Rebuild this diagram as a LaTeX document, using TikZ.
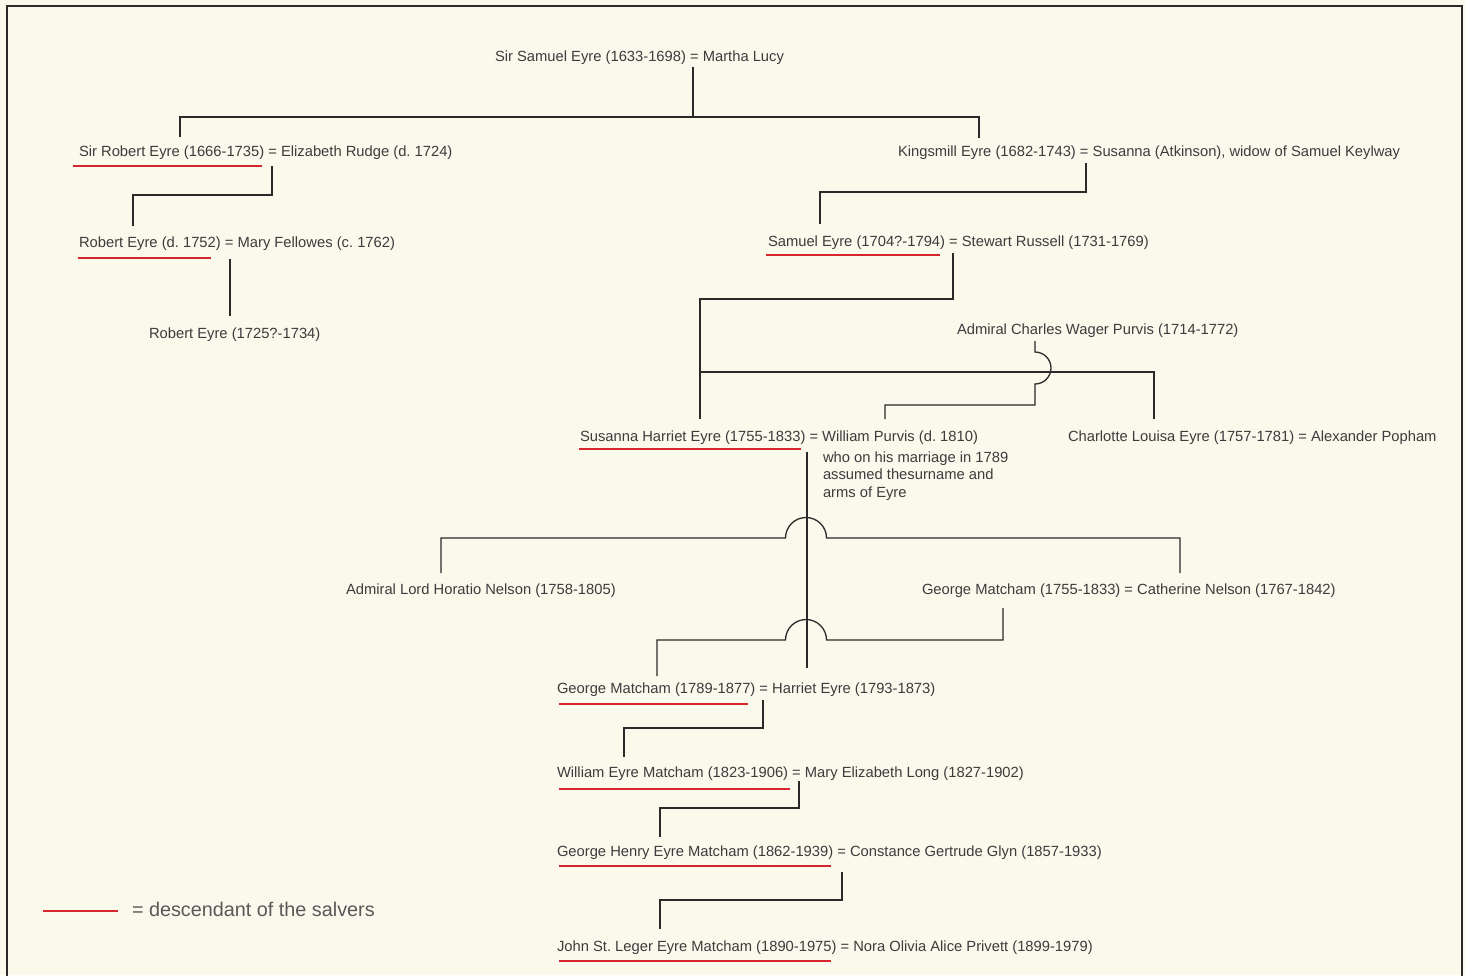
\documentclass[tikz,border=0pt]{standalone}
\usepackage{fontspec}
\setmainfont{Liberation Sans}
\frenchspacing
\definecolor{bg}{HTML}{FBF8EC}
\definecolor{txt}{HTML}{3C3C3C}
\definecolor{ln}{HTML}{2A2A2A}
\definecolor{rd}{HTML}{D7262E}
\begin{document}
\begin{tikzpicture}[x=1pt,y=-1pt,
  person/.style={anchor=base west,inner sep=0pt,outer sep=0pt,text=txt,font=\fontsize{14.75}{18}\selectfont},
  conn/.style={draw=ln,line width=1.3pt},
  thick conn/.style={draw=ln,line width=2.3pt},
  under/.style={draw=rd,line width=2.8pt}]
\useasboundingbox (0,0) rectangle (1465,975);
\fill[bg] (0,0) rectangle (1465,975);
\draw[ln,line width=1.3pt] (7,976) -- (7,6) -- (1462,6) -- (1462,976);

% people
\node[person] (ss) at (495,61) {Sir Samuel Eyre (1633-1698) = Martha Lucy};
\node[person] (sr) at (79,156) {Sir Robert Eyre (1666-1735) = Elizabeth Rudge (d. 1724)};
\node[person] (ke) at (898,156) {Kingsmill Eyre (1682-1743) = Susanna (Atkinson), widow of Samuel Keylway};
\node[person] (re) at (79,247) {Robert Eyre (d. 1752) = Mary Fellowes (c. 1762)};
\node[person] (se) at (768,246) {Samuel Eyre (1704?-1794) = Stewart Russell (1731-1769)};
\node[person] (rj) at (149,338) {Robert Eyre (1725?-1734)};
\node[person] (ap) at (957,334) {Admiral Charles Wager Purvis (1714-1772)};
\node[person] (sh) at (580,441) {Susanna Harriet Eyre (1755-1833) = William Purvis (d. 1810)};
\node[person] (n1) at (823,462) {who on his marriage in 1789};
\node[person] (n2) at (823,479) {assumed thesurname and};
\node[person] (n3) at (823,497) {arms of Eyre};
\node[person] (cl) at (1068,441) {Charlotte Louisa Eyre (1757-1781) = Alexander Popham};
\node[person] (hn) at (346,594) {Admiral Lord Horatio Nelson (1758-1805)};
\node[person] (gm) at (922,594) {George Matcham (1755-1833) = Catherine Nelson (1767-1842)};
\node[person] (gm2) at (557,693) {George Matcham (1789-1877) = Harriet Eyre (1793-1873)};
\node[person] (wm) at (557,777) {William Eyre Matcham (1823-1906) = Mary Elizabeth Long (1827-1902)};
\node[person] (gh) at (557,856) {George Henry Eyre Matcham (1862-1939) = Constance Gertrude Glyn (1857-1933)};
\node[person] (js) at (557,951) {John St. Leger Eyre Matcham (1890-1975) = Nora Olivia Alice Privett (1899-1979)};
\node[person,font=\fontsize{19.8}{22}\selectfont,text=txt!85] (lg) at (132,916) {= descendant of the salvers};

% connector end points
\coordinate (ss-d) at (693,67);
\coordinate (sr-u) at (180,137);
\coordinate (ke-u) at (979,138);
\coordinate (sr-d) at (272,166);
\coordinate (re-u) at (133,226);
\coordinate (re-d) at (230,259);
\coordinate (rj-u) at (230,316);
\coordinate (ke-d) at (1086,163);
\coordinate (se-u) at (820,224);
\coordinate (se-d) at (953,253);
\coordinate (sh-u) at (700,419);
\coordinate (cl-u) at (1154,419);
\coordinate (ap-d) at (1035,341);
\coordinate (wp-u) at (885,419);
\coordinate (sh-d) at (807,452);
\coordinate (gm2-u) at (807,668);
\coordinate (hn-u) at (441,573);
\coordinate (cn-u) at (1180,573);
\coordinate (gm-d) at (1003,608);
\coordinate (gmc-u) at (657,676);
\coordinate (gm2-d) at (763,700);
\coordinate (wm-u) at (624,757);
\coordinate (wm-d) at (799,781);
\coordinate (gh-u) at (660,837);
\coordinate (gh-d) at (842,872);
\coordinate (js-u) at (660,929);

% connectors
\draw[conn] (ss-d) -- (693,117);
\draw[thick conn] (sr-u) -- (180,117) -- (693,117);
\draw[conn] (693,117) -- (979,117) -- (ke-u);
\draw[conn] (sr-d) -- (272,195) -- (133,195) -- (re-u);
\draw[conn] (re-d) -- (rj-u);
\draw[conn] (ke-d) -- (1086,192) -- (820,192) -- (se-u);
\draw[conn] (se-d) -- (953,299) -- (700,299) -- (sh-u);
\draw[conn] (700,372) -- (1154,372) -- (cl-u);
\draw[conn] (ap-d) -- (1035,352) arc[start angle=90,end angle=-90,radius=16pt] -- (1035,405) -- (885,405) -- (wp-u);
\draw[conn] (sh-d) -- (gm2-u);
\draw[conn] (hn-u) -- (441,538) -- (785.5,538) arc[start angle=180,end angle=0,radius=20.5pt] -- (1180,538) -- (cn-u);
\draw[conn] (gm-d) -- (1003,640) -- (826.5,640) arc[start angle=0,end angle=180,radius=20.5pt] -- (657,640) -- (gmc-u);
\draw[conn] (gm2-d) -- (763,728) -- (624,728) -- (wm-u);
\draw[conn] (wm-d) -- (799,808) -- (660,808) -- (gh-u);
\draw[conn] (gh-d) -- (842,900) -- (660,900) -- (js-u);

% red underlines
\draw[under] (sr.base west) ++(-6,10) -- ++(189,0);
\draw[under] (re.base west) ++(-1,11) -- ++(133,0);
\draw[under] (se.base west) ++(-2,9) -- ++(174,0);
\draw[under] (sh.base west) ++(-1,8) -- ++(222,0);
\draw[under] (gm2.base west) ++(2,11) -- ++(189,0);
\draw[under] (wm.base west) ++(2,12) -- ++(231,0);
\draw[under] (gh.base west) ++(2,10) -- ++(272,0);
\draw[under] (js.base west) ++(2,10) -- ++(272,0);
\coordinate (lg-l) at (43,911);
\draw[under] (lg-l) -- (118,911);
\end{tikzpicture}
\end{document}
